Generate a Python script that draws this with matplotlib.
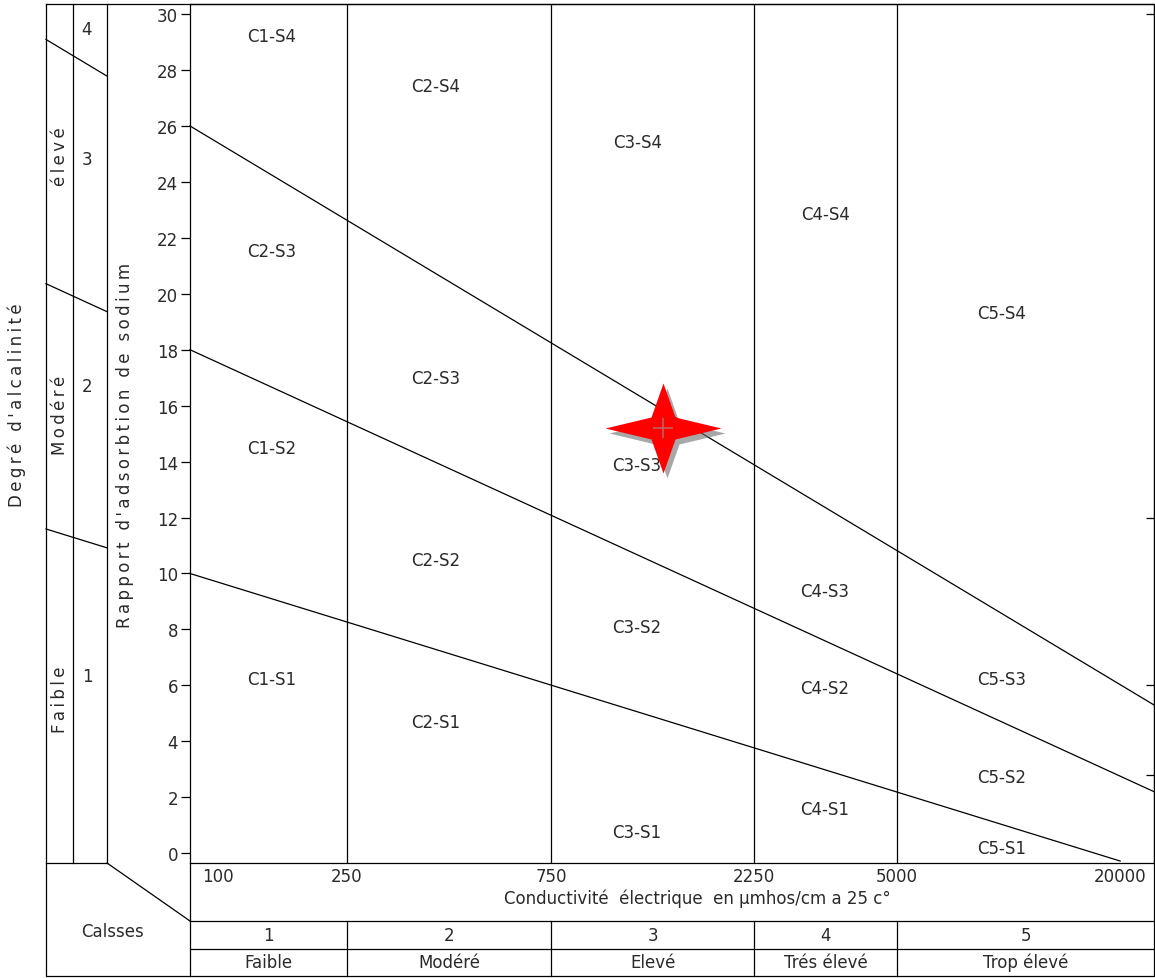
import matplotlib
matplotlib.use("Agg")
import matplotlib.pyplot as plt
import numpy as np
from matplotlib.lines import Line2D
from matplotlib.path import Path
from matplotlib.transforms import ScaledTranslation

W, H = 1155, 979

# conductivity axis (µmhos/cm)
ec_ticks = [100, 250, 750, 2250, 5000, 20000]
ec_tick_labels = ["100", "250", "750", "2250", "5000", "20000"]
class_limits = [250, 750, 2250, 5000]
class_numbers = ["1", "2", "3", "4", "5"]
class_names = ["Faible", "Modéré", "Elevé", "Trés élevé", "Trop élevé"]
ec_min, ec_max = 100, 24700

# SAR axis
sar_ticks = list(range(0, 31, 2))
right_ticks = [30, 12, 6, 2.8]

# sodium hazard boundaries, (start, end) for each line
s_lines_ec = [(100, ec_max), (100, ec_max), (100, 20000)]
s_lines_sar = [(26, 5.3), (18, 2.2), (10, -0.28)]

# zone labels
zone_names = ["C1-S4", "C2-S4", "C3-S4", "C4-S4", "C5-S4",
              "C2-S3", "C2-S3", "C3-S3", "C4-S3", "C5-S3",
              "C1-S2", "C2-S2", "C3-S2", "C4-S2", "C5-S2",
              "C1-S1", "C2-S1", "C3-S1", "C4-S1", "C5-S1"]
zone_ec = [161, 403, 1195, 3344, 9546,
           161, 403, 1195, 3344, 9546,
           161, 403, 1195, 3344, 9546,
           161, 403, 1195, 3344, 9546]
zone_sar = [29.22, 27.43, 25.43, 22.85, 19.31,
            21.53, 16.99, 13.88, 9.37, 6.23,
            14.49, 10.48, 8.09, 5.91, 2.72,
            6.23, 4.69, 0.76, 1.58, 0.18]

# sample point
sample_ec = [1375]
sample_sar = [15.2]

alk_numbers = ["4", "3", "2", "1"]
alk_names = ["élevé", "Modéré", "Faible"]

TXT = "#2a2a2a"
LW = 0.9


def spaced(s):
    return "\u2009".join(s)


# piecewise log scale of the original diagram
grid_log = np.log10([100, 250, 750, 2250, 5000, 20000, 30000])
grid_pos = np.array([0, 157, 361, 564, 707, 930, 995], float)


def fwd(x):
    return np.interp(np.log10(np.clip(x, 1, None)), grid_log, grid_pos)


def inv(p):
    return 10 ** np.interp(p, grid_pos, grid_log)


fig = plt.figure(figsize=(W / 100, H / 100), dpi=100)
ax = fig.add_axes([190 / W, 1 - 864 / H, (1154 - 190) / W, (864 - 5) / H])
ax.set_xscale("function", functions=(fwd, inv))
ax.set_xlim(ec_min, ec_max)
ax.set_ylim(-0.35, 30.36)

for sp in ax.spines.values():
    sp.set_linewidth(LW)

ax.set_yticks(sar_ticks)
ax.set_yticklabels([str(v) for v in sar_ticks])
ax.tick_params(axis="y", direction="out", length=6.5, width=LW, pad=2,
               labelsize=12, labelcolor=TXT)
ax.yaxis.get_major_ticks()[0].tick1line.set_visible(False)

ax.set_xticks(ec_ticks)
ax.set_xticklabels(ec_tick_labels)
ax.minorticks_off()
ax.tick_params(axis="x", length=0, pad=3, labelsize=12, labelcolor=TXT)
first = ax.get_xticklabels()[0]
first.set_horizontalalignment("left")
first.set_transform(first.get_transform() + ScaledTranslation(0.12, 0, fig.dpi_scale_trans))

ax2 = ax.twinx()
ax2.set_ylim(ax.get_ylim())
ax2.set_yticks(right_ticks)
ax2.tick_params(axis="y", direction="in", length=6, width=LW, labelright=False)
for sp in ax2.spines.values():
    sp.set_visible(False)

# class limits
for ec in class_limits:
    ax.axvline(ec, color="black", lw=LW)

# sodium hazard lines
for xs, ys in zip(s_lines_ec, s_lines_sar):
    ax.plot(xs, ys, color="black", lw=LW, clip_on=False)

for name, x, y in zip(zone_names, zone_ec, zone_sar):
    ax.text(x, y, name, ha="center", va="center", fontsize=12, color=TXT)

# sample star with its shadow
star = Path([(0, 45), (12, 11), (58, 0), (12, -11), (0, -45), (-12, -11),
             (-58, 0), (-12, 11), (0, 45)], closed=True)
shadow = ax.transData + ScaledTranslation(0.04, -0.05, fig.dpi_scale_trans)
ax.plot(sample_ec, sample_sar, marker=star, markersize=83.5, color="#6f6f6f",
        alpha=0.6, mec="none", ls="none", transform=shadow, zorder=5)
ax.plot(sample_ec, sample_sar, marker=star, markersize=83.5, color="#ff0000",
        mec="none", ls="none", zorder=6)
ax.plot(sample_ec, sample_sar, marker="+", markersize=14, color="#c06060",
        mew=1.2, ls="none", zorder=7)


# ---- frame, left panel and class table (pixel layout) ----
def to_px(x, y):
    dx, dy = ax.transData.transform((x, y))
    return dx, H - dy


def fig_line(xs, ys):
    fig.add_artist(Line2D([x / W for x in xs], [1 - y / H for y in ys],
                          transform=fig.transFigure, color="black", lw=LW))


def fig_text(x, y, s, **kw):
    kw.setdefault("fontsize", 12)
    kw.setdefault("color", TXT)
    fig.text(x / W, 1 - y / H, s, ha="center", va="center", **kw)


fig_line([46, 1154, 1154, 46, 46], [5, 5, 977, 977, 5])
fig_line([73, 73], [5, 864])
fig_line([107, 107], [5, 864])
fig_line([46, 107], [864, 864])
fig_line([107, 190], [864, 922])
fig_line([190, 190], [864, 977])
fig_line([190, 1154], [922, 922])
fig_line([190, 1154], [950, 950])

# hazard lines continued across the alkalinity panel
for xs, ys in zip(s_lines_ec, s_lines_sar):
    x0, y0 = to_px(xs[0], ys[0])
    x1, y1 = to_px(xs[1], ys[1])
    k = (y1 - y0) / (x1 - x0)
    fig_line([46, 107], [y0 + k * (46 - x0), y0 + k * (107 - x0)])

edges = [to_px(ec_min, 0)[0]] + [to_px(ec, 0)[0] for ec in class_limits] + [1154]
for e in edges[1:-1]:
    fig_line([e, e], [922, 977])
for i in range(5):
    cx = (edges[i] + edges[i + 1]) / 2
    fig_text(cx, 936, class_numbers[i])
    fig_text(cx, 963, class_names[i])

fig_text(697, 899, "Conductivité  électrique  en µmhos/cm a 25 c°")
fig_text(113, 932, "Calsses")
fig_text(17, 405, spaced("Degré d'alcalinité"), rotation=90)
fig_text(125, 445, spaced("Rapport d'adsorbtion de sodium"), rotation=90)

for s, y in zip(alk_numbers, [30, 160, 387, 677]):
    fig_text(87, y, s)
for s, y in zip(alk_names, [157, 415, 700]):
    fig_text(60, y, spaced(s), rotation=90)

fig.savefig("out.png", dpi=100)
